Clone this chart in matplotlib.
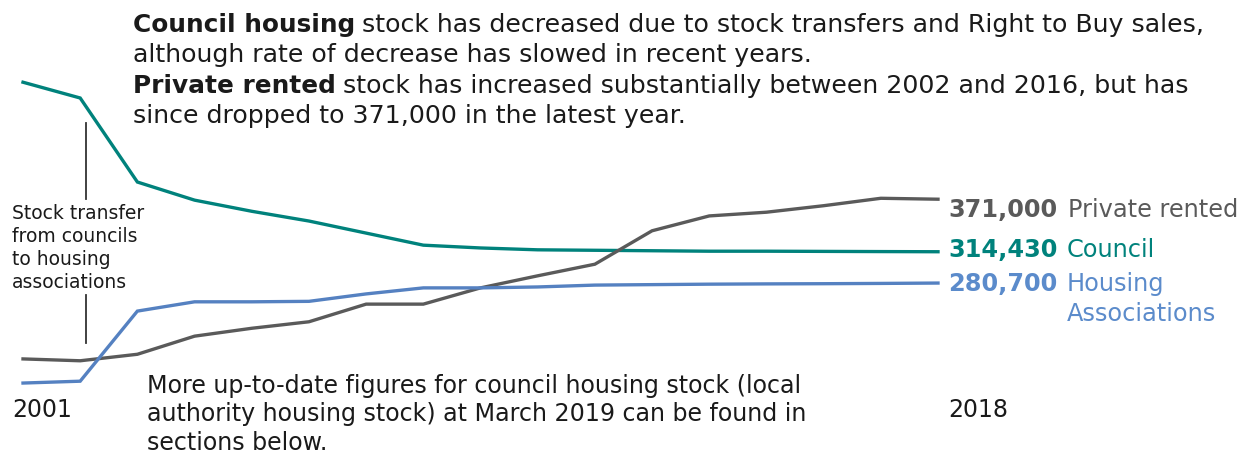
import matplotlib
matplotlib.use("Agg")
import matplotlib.pyplot as plt

# 17 data points, first labelled 2001, last 2018
years = list(range(17))
year_labels = ["2001", "2018"]

council = [497000, 480000, 389500, 370000, 358000, 347500, 334500, 321500, 318500,
           316500, 316000, 315500, 315000, 315000, 314800, 314600, 314430]
private_rented = [199000, 197000, 204000, 223500, 232000, 239000, 258000, 258000, 275500,
                  288500, 301000, 337000, 353000, 357000, 364000, 372000, 371000]
housing_assoc = [173000, 175000, 250500, 260500, 260500, 261000, 269000, 275500, 275500,
                 276500, 278500, 279000, 279500, 279800, 280000, 280300, 280700]

teal = "#00827c"
grey = "#5a5a5a"
blue = "#5581c1"
blue_txt = "#5b8bcb"
txt = "#1a1a1a"

W, H = 1247, 457
fig = plt.figure(figsize=(W / 100, H / 100), dpi=100)
ax = fig.add_axes([0, 0, 1, 1])
ax.axis("off")

ax.plot(years, council, color=teal, lw=2.4, solid_joinstyle="miter")
ax.plot(years, private_rented, color=grey, lw=2.4, solid_joinstyle="miter")
ax.plot(years, housing_assoc, color=blue, lw=2.4, solid_joinstyle="miter")

# map so that first point sits at x=23px and last at x=938px
step = 915 / 16
ax.set_xlim(-23 / step, 16 + (W - 938) / step)
ax.set_ylim(585550 - 1077 * H, 585550)


def px(x, y):
    return x / W, 1 - y / H


fs = 18.2
bfs = 17.8
renderer = fig.canvas.get_renderer()


def mixed(x, y, bold, rest):
    t = fig.text(*px(x, y), bold, fontsize=bfs, fontweight="bold", color=txt, va="baseline")
    bb = t.get_window_extent(renderer)
    fig.text(bb.x1 / W + 7 / W, 1 - y / H, rest, fontsize=fs, color=txt, va="baseline")


mixed(133, 32, "Council housing", "stock has decreased due to stock transfers and Right to Buy sales,")
fig.text(*px(133, 62), "although rate of decrease has slowed in recent years.", fontsize=fs, color=txt, va="baseline")
mixed(133, 93, "Private rented", "stock has increased substantially between 2002 and 2016, but has")
fig.text(*px(133, 123), "since dropped to 371,000 in the latest year.", fontsize=fs, color=txt, va="baseline")

# annotation for stock transfer
ax.plot([1.1, 1.1], [585550 - 1077 * 123, 585550 - 1077 * 199], color="#333333", lw=1.3)
ax.plot([1.1, 1.1], [585550 - 1077 * 295, 585550 - 1077 * 343], color="#333333", lw=1.3)
for i, line in enumerate(["Stock transfer", "from councils", "to housing", "associations"]):
    fig.text(*px(12, 213 + 23.3 * i), line, fontsize=13.5, color=txt, va="center")

# end labels
lfs = 17.3
fig.text(*px(948, 210), "371,000", fontsize=lfs, fontweight="bold", color=grey, va="center")
fig.text(*px(1068, 210), "Private rented", fontsize=lfs, color=grey, va="center")
fig.text(*px(948, 250), "314,430", fontsize=lfs, fontweight="bold", color=teal, va="center")
fig.text(*px(1067, 250), "Council", fontsize=lfs, color=teal, va="center")
fig.text(*px(948, 284), "280,700", fontsize=lfs, fontweight="bold", color=blue_txt, va="center")
fig.text(*px(1067, 284), "Housing", fontsize=lfs, color=blue_txt, va="center")
fig.text(*px(1067, 314), "Associations", fontsize=lfs, color=blue_txt, va="center")

# year labels
fig.text(*px(12, 410), year_labels[0], fontsize=17, color=txt, va="center")
fig.text(*px(948, 410), year_labels[1], fontsize=17, color=txt, va="center")

bottom = ["More up-to-date figures for council housing stock (local",
          "authority housing stock) at March 2019 can be found in",
          "sections below."]
for i, line in enumerate(bottom):
    fig.text(*px(147, 386 + 28.5 * i), line, fontsize=17.1, color=txt, va="center")

fig.savefig("out.png", dpi=100)
